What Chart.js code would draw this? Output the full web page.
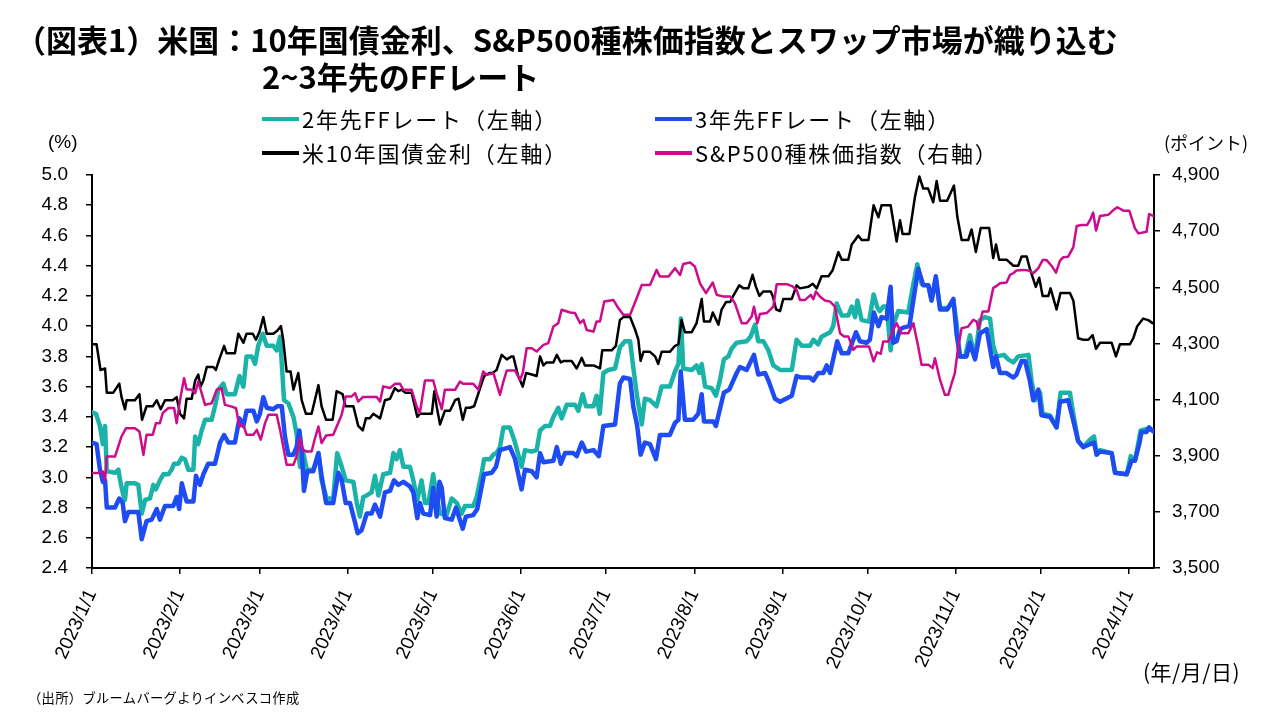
<!DOCTYPE html>
<html><head><meta charset="utf-8">
<script src="https://cdn.jsdelivr.net/npm/chart.js@4.4.1/dist/chart.umd.min.js"></script>
<style>
html,body{margin:0;padding:0;background:#fff;width:1280px;height:720px;overflow:hidden;}
#wrap{position:relative;width:1280px;height:720px;}
#c{position:absolute;left:0;top:0;width:1280px;height:720px;}
.t{position:absolute;white-space:nowrap;font-family:"Noto Sans CJK JP","Noto Sans",sans-serif;color:#000;line-height:1;}
.title{font-weight:700;font-size:31px;}
.leg{font-size:22px;letter-spacing:1.8px;}
.sw{position:absolute;height:4px;}
.ax{font-family:"Liberation Sans","Noto Sans CJK JP",sans-serif;font-size:19px;}
</style></head>
<body><div id="wrap">
<canvas id="c" width="1280" height="720"></canvas>
<div class="t title" style="left:15px;top:23px;">（図表1）米国：10年国債金利、S&amp;P500種株価指数とスワップ市場が織り込む</div>
<div class="t title" style="left:262px;top:60px;">2~3年先のFFレート</div>
<div class="sw" style="left:262px;top:117px;width:37px;background:#1BB3A8;"></div>
<div class="t leg" style="left:302px;top:107px;">2年先FFレート（左軸）</div>
<div class="sw" style="left:655px;top:117px;width:37px;background:#1E4CF2;"></div>
<div class="t leg" style="left:695px;top:107px;">3年先FFレート（左軸）</div>
<div class="sw" style="left:262px;top:151px;width:37px;background:#000;"></div>
<div class="t leg" style="left:302px;top:141px;">米10年国債金利（左軸）</div>
<div class="sw" style="left:655px;top:151px;width:37px;background:#CC0C8C;"></div>
<div class="t leg" style="left:695px;top:141px;">S&amp;P500種株価指数（右軸）</div>
<div class="t ax" style="left:48px;top:132px;">(%)</div>
<div class="t" style="left:1164px;top:133px;font-size:18px;">(ポイント)</div>
<div class="t" style="left:1143px;top:661px;font-size:21px;letter-spacing:0.5px;">(年/月/日)</div>
<div class="t" style="left:28px;top:691px;font-size:13.3px;letter-spacing:0.3px;">（出所）ブルームバーグよりインベスコ作成</div>
</div>
<script>
// x values: days since 2023/1/1
const monthTickDays = [0,31,59,90,120,151,181,212,243,273,304,334,365];
const monthTickLabels = ["2023/1/1","2023/2/1","2023/3/1","2023/4/1","2023/5/1","2023/6/1","2023/7/1","2023/8/1","2023/9/1","2023/10/1","2023/11/1","2023/12/1","2024/1/1"];
const leftTicks = {min:2.4, max:5.0, step:0.2};
const rightTicks = {min:3500, max:4900, step:200};

const ff2y = [[0,3.43],[1.4,3.42],[2.8,3.34],[3.8,3.22],[4.6,3.34],[5.2,3.04],[8.1,3.03],[9.3,3.05],[9.9,2.98],[10.8,2.90],[11.6,2.85],[12.2,2.96],[15.1,2.96],[16.3,2.95],[17.5,2.76],[18.7,2.85],[20.4,2.86],[21.6,2.95],[22.5,2.92],[23.9,2.98],[25.1,3.02],[26.9,3.02],[28,3.05],[28.9,3.09],[30.4,3.09],[31.6,3.13],[32.7,3.12],[33.9,3.05],[35.7,3.05],[36.3,3.27],[37.4,3.22],[38.6,3.31],[39.8,3.38],[42.1,3.38],[43.3,3.47],[44.5,3.58],[46.2,3.62],[47.4,3.55],[50.3,3.55],[51.9,3.67],[53.3,3.60],[54.4,3.80],[56.2,3.80],[57.4,3.75],[58.5,3.87],[60.1,3.95],[61.5,3.87],[63.8,3.87],[65,3.84],[66.2,3.93],[67.6,3.51],[69.1,3.49],[70.9,3.40],[72,3.29],[73.2,3.07],[74.2,3.18],[75.6,3.05],[77.9,3.05],[79.7,3.16],[80.8,2.98],[82.6,2.86],[84.9,2.86],[86.3,3.16],[87.9,3.07],[89.3,2.98],[92,2.97],[93.2,2.83],[94.3,2.74],[95.5,2.87],[96.7,2.88],[98.4,2.90],[99.6,3.01],[100.8,2.88],[102.5,3.02],[104.9,3.03],[106.1,3.16],[107.2,3.12],[108.4,3.18],[109.6,3.07],[111.9,3.07],[113.1,2.98],[114.5,2.85],[116,2.98],[117.2,2.83],[118.4,2.83],[120.1,3.02],[121.3,2.87],[122.5,2.76],[124.8,2.75],[126.6,2.86],[128.4,2.83],[130.1,2.76],[131.3,2.81],[134.2,2.81],[135.4,2.87],[137.2,3.03],[138,3.12],[140.1,3.12],[141.3,3.15],[142.4,3.16],[143.6,3.20],[144.8,3.33],[147.1,3.33],[148.9,3.23],[151.2,3.07],[152.4,3.18],[154.8,3.17],[156.5,3.18],[157.7,3.31],[159.5,3.34],[161.2,3.34],[162.4,3.40],[164.1,3.46],[165.3,3.39],[167.1,3.48],[170,3.48],[171.2,3.44],[172.7,3.55],[173.9,3.47],[176.5,3.47],[177.6,3.54],[178.7,3.42],[180,3.69],[181.7,3.71],[184.1,3.72],[185.8,3.86],[187.6,3.90],[189.4,3.90],[190.5,3.73],[191.9,3.53],[193.5,3.35],[194.6,3.52],[196.4,3.51],[198.7,3.47],[200.5,3.60],[203.4,3.60],[205.2,3.70],[206.4,3.75],[207.3,4.05],[208.1,3.72],[211.1,3.71],[212.8,3.74],[213.8,3.69],[214.6,3.75],[215.8,3.60],[218.1,3.59],[219.6,3.54],[221,3.64],[222.4,3.78],[224,3.80],[225.1,3.85],[226.9,3.89],[230.4,3.90],[231.8,3.93],[233.4,4.01],[234.5,3.90],[236.3,3.90],[238.1,3.84],[239.8,3.74],[242.2,3.71],[246.3,3.71],[248,3.91],[249.8,3.87],[252.7,3.87],[253.9,3.91],[255.6,3.88],[256.8,3.93],[259.8,3.96],[260.9,4.00],[262.1,4.15],[263.9,4.07],[266.2,4.07],[267.4,4.13],[268.6,4.06],[269.4,4.17],[270.9,4.04],[273.5,4.03],[275.1,4.21],[276.5,4.12],[277.3,4.10],[278.5,4.13],[279.7,4.13],[281.1,3.84],[282,4.01],[283.8,4.10],[287.3,4.09],[289.1,4.28],[290.5,4.41],[292,4.28],[294.4,4.27],[295.5,4.17],[297,4.31],[298.5,4.12],[301,4.12],[303.2,4.16],[304.3,4.02],[305.5,3.80],[307.3,3.80],[309,3.94],[310.8,3.79],[312.5,4.04],[314.3,4.06],[316.1,4.05],[317.2,3.87],[318.4,3.80],[321,3.81],[322.5,3.78],[324.3,3.76],[326,3.80],[329.6,3.81],[330.7,3.64],[331.9,3.51],[333.7,3.56],[334.6,3.42],[337.2,3.41],[339.5,3.33],[340.9,3.56],[344.2,3.56],[345.4,3.42],[347.1,3.24],[348.9,3.20],[351.3,3.25],[352.7,3.27],[353.6,3.15],[354.8,3.18],[358.9,3.16],[360.1,3.03],[364.2,3.02],[365.6,3.14],[367.1,3.11],[368.3,3.23],[369.1,3.31],[371.2,3.32],[373.5,3.31]];

const ff3y = [[0,3.23],[1.6,3.22],[2.8,3.05],[3.8,2.97],[4.6,2.98],[5.2,2.80],[8.1,2.80],[9.6,2.86],[10.8,2.83],[11.6,2.71],[12.8,2.77],[16.3,2.77],[17.5,2.59],[19.2,2.71],[21,2.72],[22.8,2.79],[23.9,2.72],[25.7,2.81],[28.6,2.81],[29.8,2.87],[30.7,2.79],[31.6,2.96],[33.3,2.84],[35.7,2.84],[36.6,3.01],[38,2.95],[39.2,3.02],[40.9,3.09],[43.3,3.09],[45.1,3.23],[46.5,3.28],[48,3.23],[50.3,3.23],[51.9,3.39],[53.3,3.34],[54.4,3.44],[56.8,3.44],[58,3.37],[59.1,3.42],[60.3,3.53],[61.5,3.46],[63.8,3.45],[65.2,3.47],[66.8,3.47],[67.9,3.27],[69.1,3.15],[70.9,3.15],[72,3.20],[73,3.31],[73.8,3.18],[74.6,2.91],[75.8,3.04],[77.9,3.04],[79.7,3.16],[80.8,3.01],[82.4,2.83],[84.9,2.83],[86.7,3.03],[87.9,2.98],[89.3,2.83],[90.8,2.83],[92.6,2.70],[93.5,2.63],[94.9,2.65],[96.7,2.76],[98.4,2.76],[99.6,2.82],[101.4,2.74],[103.1,2.90],[104.9,2.91],[106.3,2.98],[107.8,2.95],[109.6,2.97],[111.9,2.94],[113.1,2.90],[114.5,2.73],[115.4,2.83],[116.6,2.76],[119,2.75],[120.1,2.93],[121.3,2.74],[122.3,2.97],[123.1,2.93],[124.2,2.73],[126.6,2.72],[128.1,2.80],[130.5,2.66],[131.6,2.74],[134.2,2.75],[135.6,2.79],[138,3.02],[140.7,3.03],[142.2,3.07],[143.6,3.18],[147.1,3.20],[148.9,3.12],[151.2,2.92],[152.4,3.05],[154.8,3.04],[156.5,3.00],[157.7,3.16],[158.9,3.10],[162.4,3.11],[163.6,3.20],[165,3.09],[166.5,3.16],[169.4,3.16],[170.6,3.14],[172.4,3.23],[173.9,3.17],[176.5,3.18],[178.4,3.14],[180,3.34],[184.1,3.35],[185.8,3.62],[187,3.66],[189.4,3.65],[190.5,3.47],[191.9,3.34],[193.1,3.15],[194.6,3.23],[196.4,3.22],[198.5,3.12],[199.9,3.28],[203.4,3.28],[205.2,3.36],[206.4,3.38],[207.2,3.70],[208.7,3.38],[211.6,3.38],[213.4,3.42],[214.6,3.55],[215.4,3.37],[218.7,3.37],[219.6,3.34],[221,3.45],[222.4,3.56],[224.3,3.58],[226.9,3.69],[228.1,3.73],[230.4,3.71],[233,3.81],[234.5,3.68],[236.9,3.69],[238.1,3.64],[240.4,3.52],[242.2,3.50],[246.3,3.54],[248,3.67],[249.8,3.66],[252.7,3.66],[253.9,3.64],[255.6,3.69],[257.4,3.69],[258.6,3.74],[259.8,3.69],[262.3,3.90],[263.9,3.82],[266.2,3.82],[268.9,3.96],[270.3,3.90],[272.6,3.89],[273.8,3.91],[275.2,4.09],[276.8,4.00],[277.9,4.06],[279.7,4.05],[281.1,4.26],[282,3.89],[283.2,3.90],[284.4,3.98],[285.5,3.99],[287.7,4.00],[289.1,4.17],[290.8,4.38],[292.6,4.27],[294.4,4.27],[295.5,4.17],[297,4.33],[298.5,4.11],[301,4.11],[303.2,4.18],[304.3,3.95],[305.5,3.80],[307.8,3.80],[309,3.89],[310.8,3.78],[312.5,3.95],[314.9,3.98],[317.2,3.73],[318.2,3.80],[319.6,3.69],[321.9,3.69],[324.3,3.66],[325.4,3.68],[327.2,3.77],[328.4,3.77],[330.1,3.64],[331.3,3.51],[333.1,3.58],[334.2,3.41],[337.2,3.40],[339.5,3.33],[340.7,3.50],[343.6,3.51],[344.8,3.42],[347.1,3.24],[348.9,3.20],[351.3,3.22],[352.7,3.23],[353.6,3.15],[354.8,3.17],[358.9,3.16],[360.1,3.03],[364.2,3.02],[365.9,3.11],[367.1,3.11],[368.6,3.22],[369.4,3.30],[371.2,3.30],[372.1,3.33],[373.8,3.30]];

const ust10y = [[0,3.88],[1.6,3.88],[3,3.71],[4.6,3.72],[5.2,3.56],[7.5,3.56],[9.6,3.62],[10.4,3.53],[11.6,3.45],[12.2,3.51],[15.1,3.51],[16.7,3.55],[17.6,3.38],[19.2,3.47],[21.4,3.47],[22.8,3.51],[24.2,3.45],[25.7,3.51],[28.4,3.51],[29.8,3.53],[31,3.42],[32.4,3.39],[33.3,3.52],[35.1,3.52],[36.3,3.64],[37.4,3.68],[38.2,3.60],[39.2,3.64],[40.4,3.73],[42.7,3.73],[43.6,3.71],[44.8,3.78],[46.5,3.87],[47.4,3.82],[50.3,3.82],[51.5,3.95],[53.3,3.89],[54.4,3.95],[56.6,3.95],[57.7,3.91],[58.9,3.96],[60.3,4.06],[61.5,3.95],[63.8,3.95],[65.2,3.97],[66.5,4.00],[67.3,3.91],[68.5,3.70],[69.9,3.70],[70.9,3.58],[72.6,3.69],[73.8,3.51],[75.3,3.42],[77.3,3.42],[79.7,3.61],[80.8,3.47],[82.4,3.38],[84.7,3.38],[86.1,3.57],[88.2,3.55],[89.2,3.47],[92,3.47],[93.7,3.34],[95.3,3.31],[96.4,3.39],[97.8,3.39],[99,3.42],[101.4,3.39],[103.1,3.51],[104.9,3.52],[106.6,3.59],[107.8,3.57],[109,3.58],[110.2,3.56],[112.5,3.56],[114.5,3.40],[115.4,3.42],[119.6,3.42],[120.5,3.57],[121.3,3.47],[122.5,3.35],[124.2,3.44],[126,3.44],[127.8,3.51],[129,3.52],[130.5,3.38],[131.6,3.46],[133,3.46],[134.5,3.47],[136.6,3.59],[138,3.67],[139.9,3.69],[141,3.69],[142.4,3.71],[144.2,3.81],[146,3.78],[147.7,3.80],[148.3,3.80],[150,3.67],[151.6,3.60],[152.8,3.69],[154.8,3.68],[156.5,3.67],[157.7,3.80],[158.9,3.74],[160,3.76],[162.4,3.76],[163.6,3.81],[165,3.76],[166.1,3.77],[168.8,3.77],[170.6,3.72],[172.4,3.79],[173.5,3.74],[176.5,3.74],[178.8,3.72],[179.6,3.84],[182.9,3.84],[184.4,3.87],[185.8,4.04],[187,4.06],[189.4,4.06],[191.1,3.98],[192.3,3.91],[193.1,3.77],[194.1,3.83],[196.4,3.83],[198.2,3.80],[199.3,3.75],[200.5,3.83],[203.4,3.83],[205.2,3.87],[206.4,3.88],[207.5,4.04],[208.7,3.96],[211.1,3.96],[212.8,4.02],[214.6,4.18],[215.4,4.03],[217.5,4.03],[218.5,4.09],[220.5,4.01],[221.6,4.11],[223.2,4.16],[224.6,4.16],[225.7,4.20],[227.8,4.27],[229.3,4.25],[231,4.25],[232.5,4.34],[233.7,4.26],[234.9,4.20],[236.3,4.23],[238.9,4.23],[239.6,4.20],[240.8,4.11],[242.2,4.10],[243.3,4.18],[246.3,4.18],[248,4.27],[249.2,4.25],[252.1,4.26],[253.7,4.28],[255.1,4.25],[256.8,4.33],[259.2,4.33],[260.7,4.37],[262.7,4.49],[263.9,4.44],[266.2,4.44],[267.4,4.54],[268.6,4.57],[269.7,4.60],[270.9,4.57],[273.3,4.57],[275.1,4.80],[276.8,4.72],[277.9,4.80],[281.1,4.80],[283.2,4.56],[284.4,4.70],[285.3,4.61],[287.7,4.61],[289.7,4.86],[291.2,4.99],[292.6,4.91],[294.3,4.91],[296.1,4.82],[297.3,4.96],[298.5,4.83],[301,4.83],[303.4,4.93],[304.6,4.72],[306.1,4.57],[308.4,4.57],[309.6,4.64],[311.1,4.49],[312.8,4.65],[315.8,4.65],[317.2,4.45],[318.2,4.54],[319.3,4.44],[321.9,4.44],[324.3,4.40],[326,4.40],[327.2,4.46],[329,4.46],[330.1,4.38],[332.2,4.26],[333.4,4.32],[334.6,4.20],[336.6,4.20],[337.4,4.25],[339.5,4.11],[340.9,4.22],[344.2,4.22],[345.4,4.17],[347.1,3.92],[348.9,3.91],[350.7,3.91],[352.2,3.94],[353.4,3.85],[354.8,3.89],[358.9,3.89],[360.4,3.80],[361.8,3.88],[365.3,3.88],[366.5,3.92],[367.9,4.00],[370,4.05],[371.8,4.04],[373.3,4.02]];

const spx = [[0,3838],[2.2,3838],[3.8,3844],[4.6,3814],[5.2,3897],[8.1,3897],[10.4,3969],[12,3998],[15.1,3998],[16.7,3986],[18.1,3903],[19.2,3975],[21.4,3975],[22.5,4016],[23.9,4016],[24.9,4052],[26.9,4070],[28.9,4070],[29.8,4016],[31,4099],[32.4,4176],[33.3,4137],[35.1,4135],[36.3,4123],[37.4,4164],[38.6,4123],[39.8,4081],[42.1,4087],[43.9,4135],[45.6,4141],[46.8,4081],[49.2,4075],[50.7,4069],[51.9,4004],[53.3,4010],[54.4,3975],[56.8,3975],[58,3992],[59.4,3957],[60.9,4016],[62.1,4046],[65,4046],[66.2,3992],[67.3,3933],[68.5,3868],[70.9,3868],[72,3897],[73.2,3963],[74.2,3921],[75.6,3915],[77.3,3915],[78.5,3963],[79.7,4004],[80.8,3945],[82.4,3972],[84.9,3975],[87.9,4046],[89.3,4111],[91.4,4111],[92.6,4123],[93.7,4093],[95.3,4109],[100.2,4109],[101.4,4093],[102.5,4147],[104.9,4141],[106.6,4156],[108.4,4156],[109.6,4135],[112.5,4135],[114.3,4075],[115.4,4052],[117.2,4168],[120.1,4168],[121.3,4123],[123.1,4066],[124.2,4135],[127.8,4135],[129.5,4164],[130.7,4156],[134.2,4156],[136,4135],[137.7,4200],[138.9,4188],[141.3,4194],[143.6,4117],[144.8,4164],[146,4204],[148.9,4204],[150.6,4170],[151.6,4194],[153,4283],[154.8,4283],[156.5,4271],[157.7,4283],[158.9,4295],[160.6,4301],[162.4,4360],[164.1,4372],[165.3,4420],[168.3,4410],[170,4408],[171.8,4372],[173,4384],[174.1,4348],[176.5,4342],[177.6,4378],[178.8,4378],[180.3,4449],[183.5,4455],[185.3,4425],[187,4402],[189.4,4402],[191.7,4461],[193.5,4508],[196.4,4508],[198.7,4562],[199.9,4538],[202.9,4538],[205.2,4568],[207,4544],[208.1,4583],[210.5,4588],[212.2,4574],[214,4514],[216.1,4479],[218.5,4517],[219.9,4473],[222.2,4467],[224.6,4467],[226.3,4443],[228.7,4372],[230.4,4372],[232.2,4396],[233,4431],[234.2,4372],[235.1,4405],[237.5,4408],[239.8,4431],[241,4511],[244.5,4511],[246.6,4503],[248,4491],[249.2,4455],[251,4455],[253,4473],[253.9,4458],[254.8,4485],[256.2,4467],[258,4453],[259.8,4449],[261.5,4431],[263.3,4336],[264.7,4325],[266.2,4325],[268,4277],[269.1,4289],[271.5,4289],[273.5,4289],[275.1,4236],[276.3,4268],[277.6,4263],[278.5,4307],[280.3,4307],[282,4348],[283.2,4372],[285,4336],[287.3,4336],[289.1,4372],[290.8,4289],[292,4224],[294.4,4224],[295.9,4212],[296.7,4247],[298.5,4170],[300.2,4117],[301.4,4117],[302.6,4159],[303.7,4194],[304.9,4289],[306.1,4354],[308.4,4360],[310.2,4384],[311.4,4378],[312,4351],[313.5,4414],[315.5,4414],[317.2,4497],[318.4,4505],[319.6,4514],[321.9,4517],[323.1,4544],[324.3,4550],[325.4,4560],[327.8,4562],[329.6,4560],[331.3,4550],[333.1,4568],[334.6,4597],[336,4597],[337.8,4576],[339.3,4552],[340.7,4595],[341.9,4607],[343.6,4609],[345.4,4643],[346.6,4718],[348.3,4722],[350.3,4722],[351.3,4740],[352.4,4766],[353.4,4702],[354.8,4754],[357.7,4758],[359.5,4775],[360.9,4785],[363,4773],[365.1,4773],[367.1,4710],[368.3,4692],[371.2,4698],[372.1,4761],[373.5,4754]];

const toXY = arr => arr.map(p => ({x:p[0], y:p[1]}));
const axisFont = {family:"'Liberation Sans', Arial, sans-serif", size:19};

new Chart(document.getElementById('c'), {
  type:'line',
  data:{datasets:[
    {label:'S&P500種株価指数（右軸）', data:toXY(spx), yAxisID:'y2', borderColor:'#CC0C8C', borderWidth:2.5, order:0},
    {label:'米10年国債金利（左軸）', data:toXY(ust10y), yAxisID:'y', borderColor:'#000000', borderWidth:2.5, order:1},
    {label:'3年先FFレート（左軸）', data:toXY(ff3y), yAxisID:'y', borderColor:'#1E4CF2', borderWidth:4.5, order:2},
    {label:'2年先FFレート（左軸）', data:toXY(ff2y), yAxisID:'y', borderColor:'#1BB3A8', borderWidth:4.5, order:3}
  ]},
  options:{
    responsive:false, animation:false, devicePixelRatio:1,
    layout:{padding:{top:175,left:0,right:0,bottom:0}},
    elements:{point:{radius:0}, line:{tension:0, borderJoinStyle:'round', borderCapStyle:'round', fill:false}},
    plugins:{legend:{display:false}, tooltip:{enabled:false}},
    scales:{
      x:{type:'linear', min:0, max:373.8,
        afterBuildTicks:s=>{ s.ticks = monthTickDays.map(v=>({value:v})); },
        afterFit:s=>{ s.height = 152; },
        ticks:{autoSkip:false, maxRotation:65, minRotation:65, padding:12, color:'#000', font:axisFont,
          callback:(v,i)=>monthTickLabels[i]},
        grid:{drawOnChartArea:false, drawTicks:true, tickLength:6, color:'#000', lineWidth:1.5},
        border:{color:'#000', width:2}},
      y:{position:'left', min:leftTicks.min, max:leftTicks.max,
        afterFit:s=>{ s.width = 92; },
        ticks:{stepSize:leftTicks.step, padding:18, color:'#000', font:axisFont, callback:v=>Number(v).toFixed(1)},
        grid:{drawOnChartArea:false, drawTicks:true, tickLength:6, color:'#000', lineWidth:1.5},
        border:{color:'#000', width:2}},
      y2:{position:'right', min:rightTicks.min, max:rightTicks.max,
        afterFit:s=>{ s.width = 126; },
        ticks:{stepSize:rightTicks.step, padding:12, color:'#000', font:axisFont, callback:v=>Number(v).toLocaleString('en-US')},
        grid:{drawOnChartArea:false, drawTicks:true, tickLength:6, color:'#000', lineWidth:1.5},
        border:{color:'#000', width:2}}
    }
  }
});
</script>
</body></html>
